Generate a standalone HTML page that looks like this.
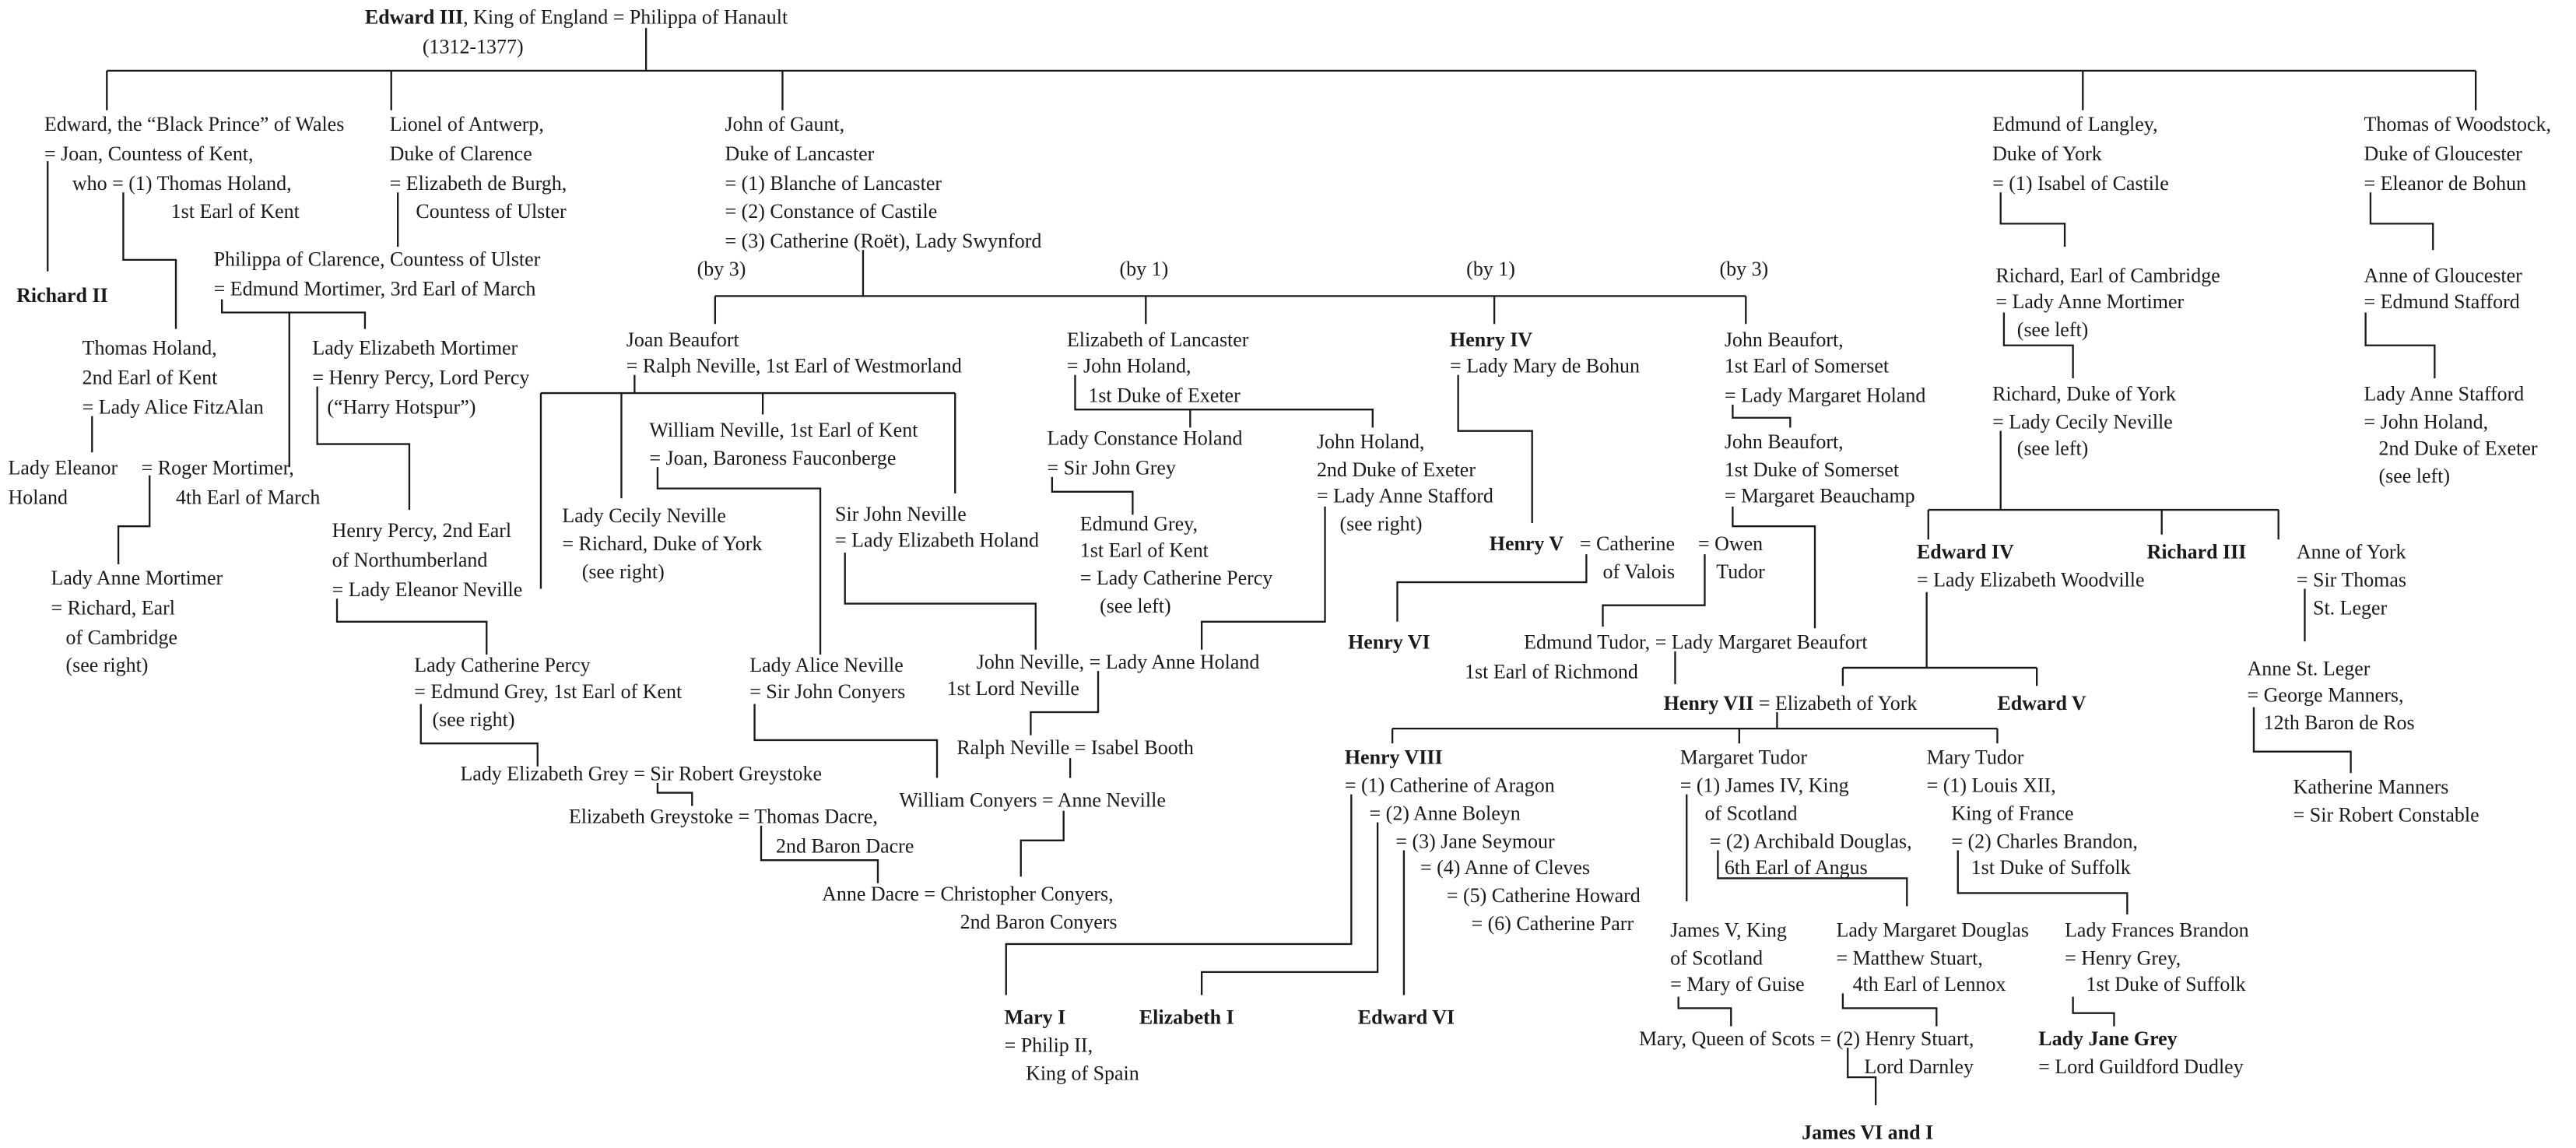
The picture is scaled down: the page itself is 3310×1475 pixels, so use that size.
<!DOCTYPE html>
<html><head><meta charset="utf-8"><style>
html,body{margin:0;padding:0;background:#fff;}
svg{display:block;}
text{font-family:"Liberation Serif",serif;font-size:12.3px;fill:#1a1a1a;}
.b{font-weight:bold;}
path{fill:none;stroke:#1a1a1a;stroke-width:1.1;}
</style></head><body>
<svg width="3310" height="1475" viewBox="0 0 1567 698" preserveAspectRatio="none" xmlns="http://www.w3.org/2000/svg">
<g>
<path d="M393,17V43 M65,43H1506 M65,43V67 M238,43V67 M476,43V67 M1267,43V67 M1506,43V67"/>
<path d="M29,98V165 M75,117V158H107V200 M56,253V275 M91,289V320H72V343"/>
<path d="M242,117V150 M135,182V190H222V200 M176,190V284 M193,235V270H249V310 M205,364V378H296V398 M256,428V452H327V466 M400,476V482H421V490 M463,502V523H534V537"/>
<path d="M525,152V180 M435,180H1062 M435,180V197 M697,180V197 M909,180V197 M1062,180V197"/>
<path d="M386,228V239 M329,239H581 M329,239V358 M378,239V303 M464,239V252 M581,239V300 M400,284V297H499V398 M459,428V450H570V473 M647,493V511H621V533 M514,336V367H630V395 M668,408V433H627V447 M651,461V473"/>
<path d="M654,228V249H835V260 M724,249V260 M640,290V299H689V313 M806,308V378H731V395"/>
<path d="M887,228V262H932V318 M965,337V354H850V378 M1037,337V368H975V381 M1019,396V416"/>
<path d="M1054,246V254H1089V260 M1054,308V320H1104V382"/>
<path d="M1217,117V136H1256V150 M1219,190V210H1261V230 M1217,262V310 M1173,310H1386 M1173,310V328 M1315,310V325 M1386,310V328 M1172,360V406 M1121,406H1239 M1121,406V417 M1239,406V417 M1402,358V390 M1371,430V457H1430V470"/>
<path d="M1442,117V136H1480V152 M1439,190V210H1481V230"/>
<path d="M1081,433V443 M847,443H1215 M847,443V452 M1058,443V452 M1215,443V452"/>
<path d="M822,483V574H612V605 M838,500V591H731V605 M854,517V605"/>
<path d="M1026,483V548 M1045,517V534H1160V551 M1021,606V613H1053V624 M1121,604V613H1178V624 M1124,637V655H1141V672 M1191,517V543H1294V556 M1261,606V616H1286V624"/>
</g>
<g transform="translate(0,4.5)">
<text x="222" y="10"><tspan class="b">Edward III</tspan>, King of England = Philippa of Hanault</text>
<text x="257" y="28">(1312-1377)</text>

<text x="27" y="75">Edward, the “Black Prince” of Wales</text>
<text x="27" y="93">= Joan, Countess of Kent,</text>
<text x="44" y="111">who = (1) Thomas Holand,</text>
<text x="104" y="128">1st Earl of Kent</text>
<text x="10" y="179" class="b">Richard II</text>
<text x="50" y="211">Thomas Holand,</text>
<text x="50" y="229">2nd Earl of Kent</text>
<text x="50" y="247">= Lady Alice FitzAlan</text>
<text x="5" y="284">Lady Eleanor</text>
<text x="5" y="302">Holand</text>
<text x="86" y="284">= Roger Mortimer,</text>
<text x="107" y="302">4th Earl of March</text>
<text x="31" y="351">Lady Anne Mortimer</text>
<text x="31" y="369">= Richard, Earl</text>
<text x="40" y="387">of Cambridge</text>
<text x="40" y="404">(see right)</text>

<text x="237" y="75">Lionel of Antwerp,</text>
<text x="237" y="93">Duke of Clarence</text>
<text x="237" y="111">= Elizabeth de Burgh,</text>
<text x="253" y="128">Countess of Ulster</text>
<text x="130" y="157">Philippa of Clarence, Countess of Ulster</text>
<text x="130" y="175">= Edmund Mortimer, 3rd Earl of March</text>
<text x="190" y="211">Lady Elizabeth Mortimer</text>
<text x="190" y="229">= Henry Percy, Lord Percy</text>
<text x="199" y="247">(“Harry Hotspur”)</text>
<text x="202" y="322">Henry Percy, 2nd Earl</text>
<text x="202" y="340">of Northumberland</text>
<text x="202" y="358">= Lady Eleanor Neville</text>
<text x="252" y="404">Lady Catherine Percy</text>
<text x="252" y="420">= Edmund Grey, 1st Earl of Kent</text>
<text x="263" y="437">(see right)</text>
<text x="280" y="470">Lady Elizabeth Grey = Sir Robert Greystoke</text>
<text x="346" y="496">Elizabeth Greystoke = Thomas Dacre,</text>
<text x="472" y="514">2nd Baron Dacre</text>
<text x="500" y="543">Anne Dacre = Christopher Conyers,</text>
<text x="584" y="560">2nd Baron Conyers</text>

<text x="441" y="75">John of Gaunt,</text>
<text x="441" y="93">Duke of Lancaster</text>
<text x="441" y="111">= (1) Blanche of Lancaster</text>
<text x="441" y="128">= (2) Constance of Castile</text>
<text x="441" y="146">= (3) Catherine (Roët), Lady Swynford</text>
<text x="424" y="163">(by 3)</text>
<text x="681" y="163">(by 1)</text>
<text x="892" y="163">(by 1)</text>
<text x="1046" y="163">(by 3)</text>

<text x="381" y="206">Joan Beaufort</text>
<text x="381" y="222">= Ralph Neville, 1st Earl of Westmorland</text>
<text x="395" y="261">William Neville, 1st Earl of Kent</text>
<text x="395" y="278">= Joan, Baroness Fauconberge</text>
<text x="342" y="313">Lady Cecily Neville</text>
<text x="342" y="330">= Richard, Duke of York</text>
<text x="354" y="347">(see right)</text>
<text x="508" y="312">Sir John Neville</text>
<text x="508" y="328">= Lady Elizabeth Holand</text>
<text x="456" y="404">Lady Alice Neville</text>
<text x="456" y="420">= Sir John Conyers</text>
<text x="594" y="402">John Neville, = Lady Anne Holand</text>
<text x="576" y="418">1st Lord Neville</text>
<text x="582" y="454">Ralph Neville = Isabel Booth</text>
<text x="547" y="486">William Conyers = Anne Neville</text>

<text x="649" y="206">Elizabeth of Lancaster</text>
<text x="649" y="222">= John Holand,</text>
<text x="662" y="240">1st Duke of Exeter</text>
<text x="637" y="266">Lady Constance Holand</text>
<text x="637" y="284">= Sir John Grey</text>
<text x="657" y="318">Edmund Grey,</text>
<text x="657" y="334">1st Earl of Kent</text>
<text x="657" y="351">= Lady Catherine Percy</text>
<text x="669" y="368">(see left)</text>
<text x="801" y="268">John Holand,</text>
<text x="801" y="285">2nd Duke of Exeter</text>
<text x="801" y="301">= Lady Anne Stafford</text>
<text x="815" y="318">(see right)</text>

<text x="882" y="206" class="b">Henry IV</text>
<text x="882" y="222">= Lady Mary de Bohun</text>
<text x="906" y="330" class="b">Henry V</text>
<text x="961" y="330">= Catherine</text>
<text x="1033" y="330">= Owen</text>
<text x="975" y="347">of Valois</text>
<text x="1044" y="347">Tudor</text>
<text x="820" y="390" class="b">Henry VI</text>
<text x="927" y="390">Edmund Tudor, = Lady Margaret Beaufort</text>
<text x="891" y="408">1st Earl of Richmond</text>
<text x="1012" y="427"><tspan class="b">Henry VII</tspan> = Elizabeth of York</text>
<text x="1215" y="427" class="b">Edward V</text>

<text x="1049" y="206">John Beaufort,</text>
<text x="1049" y="222">1st Earl of Somerset</text>
<text x="1049" y="240">= Lady Margaret Holand</text>
<text x="1049" y="268">John Beaufort,</text>
<text x="1049" y="285">1st Duke of Somerset</text>
<text x="1049" y="301">= Margaret Beauchamp</text>

<text x="1212" y="75">Edmund of Langley,</text>
<text x="1212" y="93">Duke of York</text>
<text x="1212" y="111">= (1) Isabel of Castile</text>
<text x="1214" y="167">Richard, Earl of Cambridge</text>
<text x="1214" y="183">= Lady Anne Mortimer</text>
<text x="1227" y="200">(see left)</text>
<text x="1212" y="239">Richard, Duke of York</text>
<text x="1212" y="256">= Lady Cecily Neville</text>
<text x="1227" y="272">(see left)</text>
<text x="1166" y="335" class="b">Edward IV</text>
<text x="1166" y="352">= Lady Elizabeth Woodville</text>
<text x="1306" y="335" class="b">Richard III</text>
<text x="1397" y="335">Anne of York</text>
<text x="1397" y="352">= Sir Thomas</text>
<text x="1407" y="369">St. Leger</text>
<text x="1367" y="406">Anne St. Leger</text>
<text x="1367" y="422">= George Manners,</text>
<text x="1377" y="439">12th Baron de Ros</text>
<text x="1395" y="478">Katherine Manners</text>
<text x="1395" y="495">= Sir Robert Constable</text>

<text x="1438" y="75">Thomas of Woodstock,</text>
<text x="1438" y="93">Duke of Gloucester</text>
<text x="1438" y="111">= Eleanor de Bohun</text>
<text x="1438" y="167">Anne of Gloucester</text>
<text x="1438" y="183">= Edmund Stafford</text>
<text x="1438" y="239">Lady Anne Stafford</text>
<text x="1438" y="256">= John Holand,</text>
<text x="1447" y="272">2nd Duke of Exeter</text>
<text x="1447" y="289">(see left)</text>

<text x="818" y="460" class="b">Henry VIII</text>
<text x="818" y="477">= (1) Catherine of Aragon</text>
<text x="833" y="494">= (2) Anne Boleyn</text>
<text x="849" y="511">= (3) Jane Seymour</text>
<text x="864" y="527">= (4) Anne of Cleves</text>
<text x="880" y="544">= (5) Catherine Howard</text>
<text x="895" y="561">= (6) Catherine Parr</text>
<text x="611" y="618" class="b">Mary I</text>
<text x="611" y="635">= Philip II,</text>
<text x="624" y="652">King of Spain</text>
<text x="693" y="618" class="b">Elizabeth I</text>
<text x="826" y="618" class="b">Edward VI</text>

<text x="1022" y="460">Margaret Tudor</text>
<text x="1022" y="477">= (1) James IV, King</text>
<text x="1037" y="494">of Scotland</text>
<text x="1040" y="511">= (2) Archibald Douglas,</text>
<text x="1049" y="527">6th Earl of Angus</text>
<text x="1016" y="565">James V, King</text>
<text x="1016" y="582">of Scotland</text>
<text x="1016" y="598">= Mary of Guise</text>
<text x="1117" y="565">Lady Margaret Douglas</text>
<text x="1117" y="582">= Matthew Stuart,</text>
<text x="1127" y="598">4th Earl of Lennox</text>
<text x="997" y="631">Mary, Queen of Scots = (2) Henry Stuart,</text>
<text x="1134" y="648">Lord Darnley</text>
<text x="1096" y="688" class="b">James VI and I</text>

<text x="1172" y="460">Mary Tudor</text>
<text x="1172" y="477">= (1) Louis XII,</text>
<text x="1187" y="494">King of France</text>
<text x="1187" y="511">= (2) Charles Brandon,</text>
<text x="1199" y="527">1st Duke of Suffolk</text>
<text x="1256" y="565">Lady Frances Brandon</text>
<text x="1256" y="582">= Henry Grey,</text>
<text x="1269" y="598">1st Duke of Suffolk</text>
<text x="1240" y="631" class="b">Lady Jane Grey</text>
<text x="1240" y="648">=  Lord Guildford Dudley</text>
</g>
</svg>
</body></html>
